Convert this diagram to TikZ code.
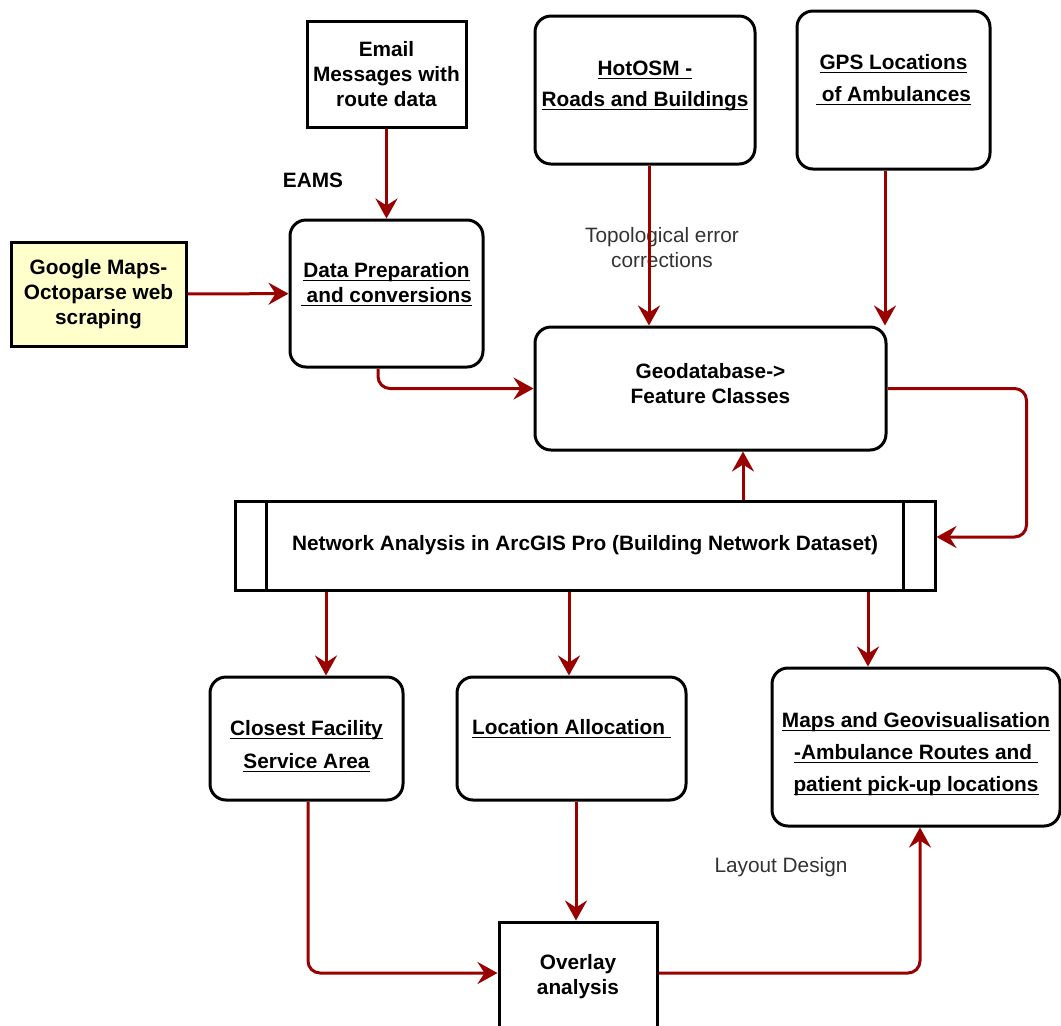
\documentclass[tikz,border=0pt]{standalone}
\usepackage{fontspec}
\setmainfont{Liberation Sans}
\usepackage{xcolor}
\usepackage{tikz}
\usetikzlibrary{arrows.meta}

\definecolor{linkred}{HTML}{990000}
\definecolor{paleyellow}{HTML}{FFFFCC}
\newcommand{\uline}[1]{\underline{\smash{#1}}\vphantom{Ag}}

\begin{document}
\begin{tikzpicture}[x=0.5pt, y=-0.5pt]
    \tikzstyle{box} = [rectangle, draw=black, line width=1.5pt, align=center, inner sep=2pt, font=\fontsize{10.4}{12.5}\selectfont\bfseries]
    \tikzstyle{rbox} = [box, rounded corners=8pt]
    \tikzstyle{note} = [align=center, text=black!80, font=\fontsize{10.4}{12.5}\selectfont]
    \tikzstyle{arrow} = [line width=1.5pt, draw=linkred, rounded corners=6pt, -{Stealth[length=10pt, width=11pt, inset=3.5pt]}]

    \useasboundingbox (0,0) rectangle (1061,1025);

    % sources
    \node (email) [box, minimum width=79.5pt, minimum height=53pt] at (386.5,74) {Email\\Messages with\\route data};
    \node (gmaps) [box, fill=paleyellow, minimum width=87.5pt, minimum height=52pt] at (98.5,294) {Google Maps-\\Octoparse web\\scraping};
    \node (prep) [rbox, minimum width=96.5pt, minimum height=73.5pt] at (386.5,293.5) {\uline{Data Preparation}\\\uline{\ and conversions}\\[-2pt]\mbox{}};
    \node (hotosm) [rbox, minimum width=110pt, minimum height=74pt] at (645,90) {\uline{HotOSM -}\\[3pt]\uline{Roads and Buildings}\\[-6.8pt]\mbox{}};
    \node (gps) [rbox, minimum width=96.5pt, minimum height=79pt] at (893.5,90) {\uline{GPS Locations}\\[3.5pt]\uline{\ of Ambulances}\\[-1.3pt]\mbox{}};

    % processing
    \node (geodb) [rbox, minimum width=175.5pt, minimum height=61.5pt] at (710.5,388.5) {Geodatabase-\textgreater\\Feature Classes\\[-7.3pt]\mbox{}};
    \node (network) [box, minimum width=350pt, minimum height=44.5pt] at (585,545.5) {Network Analysis in ArcGIS Pro (Building Network Dataset)};
    \draw [line width=1.5pt] ([xshift=16.5pt]network.north west) -- ([xshift=16.5pt]network.south west);
    \draw [line width=1.5pt] ([xshift=-16.5pt]network.north east) -- ([xshift=-16.5pt]network.south east);

    % outputs
    \node (closest) [rbox, minimum width=96.5pt, minimum height=61.5pt] at (306.5,738.5) {\mbox{}\\[3pt]\uline{Closest Facility}\\[4pt]\uline{Service Area}};
    \node (localloc) [rbox, minimum width=114.5pt, minimum height=61.5pt] at (571.5,738.5) {\uline{Location Allocation\ }\\[-1.8pt]\mbox{}};
    \node (maps) [rbox, minimum width=144pt, minimum height=79pt] at (916,747) {\mbox{}\\[2pt]\uline{Maps and Geovisualisation}\\[3.5pt]\uline{-Ambulance Routes and\ }\\[3.5pt]\uline{patient pick-up locations}};
    \node (overlay) [box, minimum width=79pt, minimum height=55pt] at (578,977) {Overlay\\analysis};

    % labels
    \node (eams) [note, text=black, font=\fontsize{10.4}{12.5}\selectfont\bfseries] at (313,180) {EAMS};
    \node (topo) [note] at (662,248) {Topological error\\corrections};
    \node (layout) [note] at (781,867) {Layout Design};

    % connectors
    \draw [arrow] (email) -- (prep);
    \draw [arrow] (gmaps) -- (prep);
    \draw [arrow] ([xshift=-4.25pt]prep.south) |- (geodb.west);
    \draw [arrow] ([xshift=2pt]hotosm.south) -- ([xshift=2pt]hotosm.south |- geodb.north);
    \draw [arrow] ([xshift=-4.25pt]gps.south) -- ([xshift=-4.25pt]gps.south |- geodb.north);
    \draw [arrow] (geodb.east) -- ++(69.5pt,0) |- ([yshift=4.25pt]network.east);
    \draw [arrow] ([xshift=79pt]network.north) -- ([xshift=79pt]network.north |- geodb.south);
    \draw [arrow] ([xshift=9.75pt]closest.north |- network.south) -- ([xshift=9.75pt]closest.north);
    \draw [arrow] ([xshift=-1.25pt]localloc.north |- network.south) -- ([xshift=-1.25pt]localloc.north);
    \draw [arrow] ([xshift=-24pt]maps.north |- network.south) -- ([xshift=-24pt]maps.north);
    \draw [arrow] ([xshift=0.75pt]closest.south) |- ([yshift=2pt]overlay.west);
    \draw [arrow] ([xshift=2.25pt]localloc.south) -- ([xshift=2.25pt]localloc.south |- overlay.north);
    \draw [arrow] ([yshift=2pt]overlay.east) -| ([xshift=2pt]maps.south);
\end{tikzpicture}
\end{document}
